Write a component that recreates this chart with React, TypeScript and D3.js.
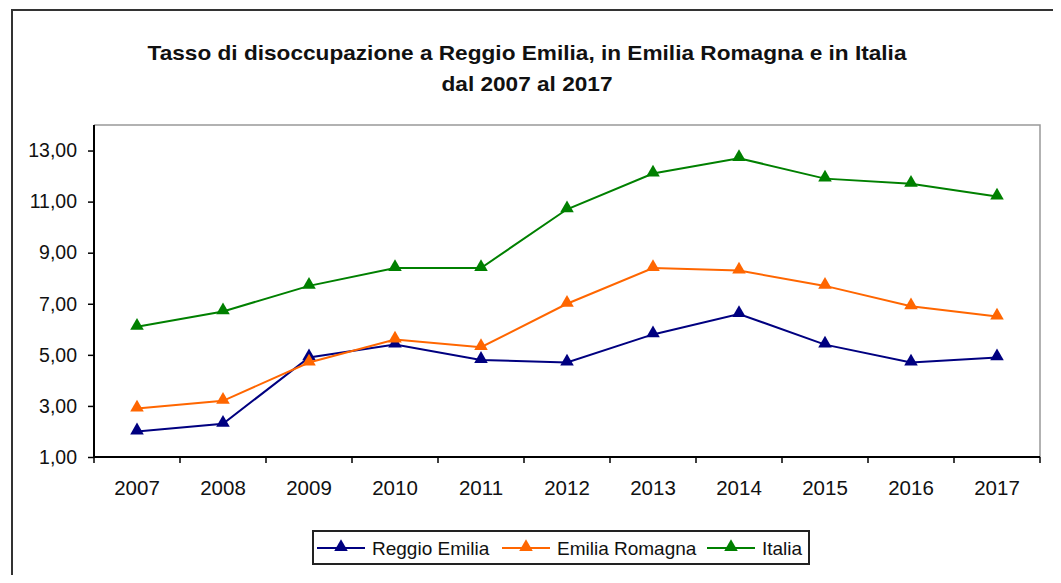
import React, { useEffect, useRef } from "react";
import * as d3 from "d3";

// anni e tassi di disoccupazione (%)
const years = ["2007", "2008", "2009", "2010", "2011", "2012", "2013", "2014", "2015", "2016", "2017"];
const reggioEmilia = [2.0, 2.3, 4.9, 5.4, 4.8, 4.7, 5.8, 6.6, 5.4, 4.7, 4.9];
const emiliaRomagna = [2.9, 3.2, 4.7, 5.6, 5.3, 7.0, 8.4, 8.3, 7.7, 6.9, 6.5];
const italia = [6.1, 6.7, 7.7, 8.4, 8.4, 10.7, 12.1, 12.7, 11.9, 11.7, 11.2];
const yTicks = [1, 3, 5, 7, 9, 11, 13];
const seriesNames = ["Reggio Emilia", "Emilia Romagna", "Italia"];
const titleLines = [
  "Tasso di disoccupazione a Reggio Emilia, in Emilia Romagna e in Italia",
  "dal 2007 al 2017",
];

const colors = ["#000080", "#FF6600", "#008000"];
const font = "'Liberation Sans', Arial, sans-serif";

export default function App() {
  const ref = useRef<SVGSVGElement>(null);

  useEffect(() => {
    const svg = d3.select(ref.current);
    svg.selectAll("*").remove();

    const width = 1061;
    const height = 583;
    const margin = { top: 125, right: 21, bottom: 126, left: 94 };
    const w = width - margin.left - margin.right;
    const h = height - margin.top - margin.bottom;

    svg.append("rect").attr("width", width).attr("height", height).attr("fill", "#fff");

    // cornice esterna
    svg
      .append("rect")
      .attr("x", 12)
      .attr("y", 10)
      .attr("width", 1070)
      .attr("height", 600)
      .attr("fill", "none")
      .attr("stroke", "#333")
      .attr("stroke-width", 2);

    // titolo
    const titleWidths = [759, 171];
    svg
      .append("g")
      .selectAll("text")
      .data(titleLines)
      .join("text")
      .attr("x", 527)
      .attr("y", (d, i) => 60 + i * 31)
      .attr("text-anchor", "middle")
      .attr("textLength", (d, i) => titleWidths[i])
      .attr("lengthAdjust", "spacingAndGlyphs")
      .style("font-family", font)
      .style("font-weight", "bold")
      .style("font-size", "21px")
      .style("fill", "#111")
      .text((d) => d);

    const g = svg.append("g").attr("transform", `translate(${margin.left},${margin.top})`);

    const x = d3.scaleBand().domain(years).range([0, w]);
    const y = d3.scaleLinear().domain([1, 14]).range([h, 0]);

    // bordo area del grafico
    g.append("path")
      .attr("d", `M0,0H${w}V${h}`)
      .attr("fill", "none")
      .attr("stroke", "#999")
      .attr("stroke-width", 1.5);

    // asse y
    const axisLeft = g
      .append("g")
      .call(d3.axisLeft(y).tickValues(yTicks).tickSize(6).tickFormat((d) => d3.format(".2f")(d as number).replace(".", ",")));
    axisLeft.select(".domain").remove();
    axisLeft.selectAll("line").style("stroke", "#000").style("stroke-width", 1.5);
    axisLeft
      .selectAll("text")
      .attr("x", -17)
      .style("font-family", font)
      .style("font-size", "19.5px")
      .style("fill", "#111");
    g.append("line").attr("x1", 0).attr("x2", 0).attr("y1", 0).attr("y2", h).attr("stroke", "#000").attr("stroke-width", 2);

    // asse x
    const axisBottom = g.append("g").attr("transform", `translate(0,${h})`);
    axisBottom
      .selectAll("line.tick")
      .data(years.concat([""]))
      .join("line")
      .attr("class", "tick")
      .attr("x1", (d, i) => i * x.step())
      .attr("x2", (d, i) => i * x.step())
      .attr("y1", 0)
      .attr("y2", 6)
      .attr("stroke", "#000")
      .attr("stroke-width", 1.5);
    axisBottom
      .selectAll("text")
      .data(years)
      .join("text")
      .attr("x", (d) => x(d)! + x.bandwidth() / 2)
      .attr("y", 38)
      .attr("text-anchor", "middle")
      .style("font-family", font)
      .style("font-size", "20.5px")
      .style("fill", "#111")
      .text((d) => d);
    axisBottom.append("line").attr("x1", 0).attr("x2", w).attr("stroke", "#000").attr("stroke-width", 2);

    const triangle = d3.symbol().type(d3.symbolTriangle).size(80);
    const line = d3
      .line<number>()
      .x((d, i) => x(years[i])! + x.bandwidth() / 2)
      .y((d) => y(d));

    [reggioEmilia, emiliaRomagna, italia].forEach((values, s) => {
      g.append("path")
        .datum(values)
        .attr("d", line)
        .attr("fill", "none")
        .attr("stroke", colors[s])
        .attr("stroke-width", 2);
      g.append("g")
        .selectAll("path")
        .data(values)
        .join("path")
        .attr("d", triangle)
        .attr("transform", (d, i) => `translate(${x(years[i])! + x.bandwidth() / 2},${y(d) - 1})`)
        .attr("fill", colors[s]);
    });

    // legenda
    const legend = svg.append("g").attr("transform", "translate(313,531)");
    legend
      .append("rect")
      .attr("width", 496)
      .attr("height", 33)
      .attr("fill", "#fff")
      .attr("stroke", "#222")
      .attr("stroke-width", 2);
    const offsets = [4, 189, 394];
    seriesNames.forEach((name, s) => {
      const item = legend.append("g").attr("transform", `translate(${offsets[s]},17)`);
      item.append("line").attr("x1", 0).attr("x2", 48).attr("stroke", colors[s]).attr("stroke-width", 2);
      item.append("path").attr("d", triangle).attr("transform", "translate(24,-1)").attr("fill", colors[s]);
      item
        .append("text")
        .attr("x", 55)
        .attr("y", 7)
        .style("font-family", font)
        .style("font-size", "19px")
        .style("fill", "#111")
        .text(name);
    });
  }, []);

  return <svg ref={ref} width={1061} height={583} style={{ display: "block", margin: "-8px" }} />;
}
